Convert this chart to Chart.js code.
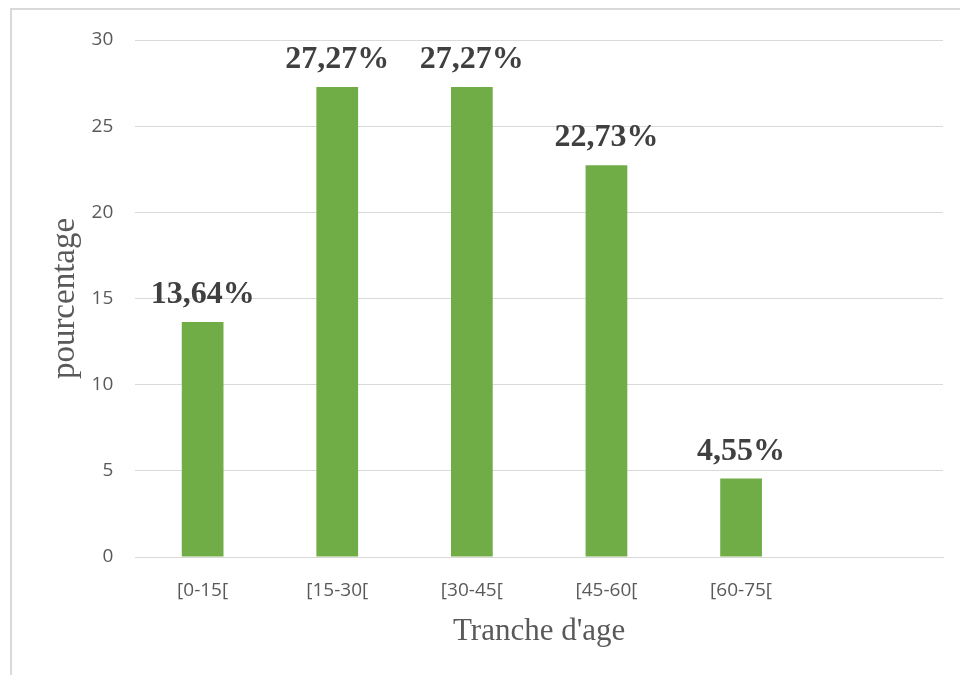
<!DOCTYPE html>
<html>
<head>
<meta charset="utf-8">
<script src="https://cdn.jsdelivr.net/npm/chart.js@4/dist/chart.umd.min.js"></script>
<style>
  body { margin: 0; background: #fff; overflow: hidden; }
  #frame { position: absolute; left: 10px; top: 8px; width: 1000px; height: 720px; border: 2px solid #d9d9d9; }
  #wrap { position: absolute; left: 0; top: 0; width: 960px; height: 675px; }
</style>
</head>
<body>
<div id="frame"></div>
<div id="wrap"><canvas id="myChart"></canvas></div>
<script>
const categories = ["[0-15[", "[15-30[", "[30-45[", "[45-60[", "[60-75[", ""];
const values = [13.64, 27.27, 27.27, 22.73, 4.55, null];
const yTicks = [0, 5, 10, 15, 20, 25, 30];

// bold percentage labels over each bar
const valueLabels = {
  id: "valueLabels",
  afterDatasetsDraw(chart) {
    const ctx = chart.ctx;
    const meta = chart.getDatasetMeta(0);
    ctx.save();
    ctx.font = "bold 32px 'Liberation Serif', serif";
    ctx.fillStyle = "#404040";
    ctx.textAlign = "center";
    ctx.textBaseline = "alphabetic";
    meta.data.forEach((bar, i) => {
      if (values[i] == null) return;
      const txt = values[i].toFixed(2).replace(".", ",") + "%";
      ctx.fillText(txt, bar.x, bar.y - 19);
    });
    ctx.restore();
  }
};

const data = {
  labels: categories,
  datasets: [
    {
      data: values,
      backgroundColor: "#70ad47",
      barPercentage: 0.62,
      categoryPercentage: 0.5,
    },
  ],
};

const config = {
  type: "bar",
  data: data,
  plugins: [valueLabels],
  options: {
    responsive: true,
    maintainAspectRatio: false,
    animation: false,
    layout: { padding: { left: 42, right: 17, top: 40, bottom: 21 } },
    plugins: {
      legend: { display: false },
      tooltip: { enabled: false },
    },
    scales: {
      x: {
        grid: { display: false },
        border: { color: "#d9d9d9", width: 1 },
        ticks: {
          color: "#595959",
          font: { family: "Open Sans", size: 19 },
          padding: 14,
          maxRotation: 0,
        },
        title: {
          display: true,
          text: "Tranche d'age",
          color: "#595959",
          font: { family: "Liberation Serif", size: 31 },
          padding: { top: -3 },
        },
      },
      y: {
        min: 0,
        max: 30,
        afterBuildTicks(axis) {
          axis.ticks = yTicks.map((v) => ({ value: v }));
        },
        grid: { color: "#d9d9d9", lineWidth: 1, drawTicks: false },
        border: { display: false },
        ticks: {
          color: "#595959",
          font: { family: "Open Sans", size: 19 },
          padding: 22,
        },
        title: {
          display: true,
          text: "pourcentage",
          color: "#595959",
          font: { family: "Liberation Serif", size: 33 },
          padding: { bottom: -16 },
        },
      },
    },
  },
};

const myChart = new Chart(document.getElementById("myChart"), config);
</script>
</body>
</html>
